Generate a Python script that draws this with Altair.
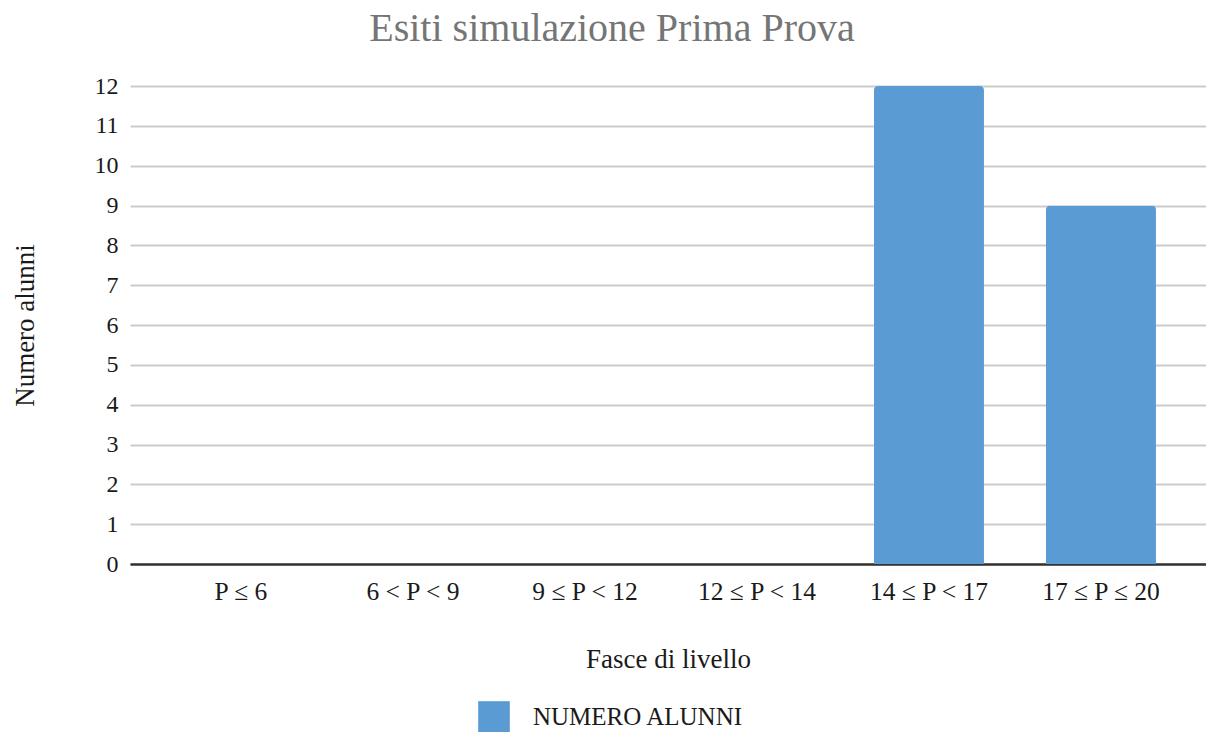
import altair as alt
import pandas as pd

categories = ["P ≤ 6", "6 < P < 9", "9 ≤ P < 12", "12 ≤ P < 14", "14 ≤ P < 17", "17 ≤ P ≤ 20"]
values = [0, 0, 0, 0, 12, 9]
series_name = "NUMERO ALUNNI"
y_ticks = list(range(0, 13))

df = pd.DataFrame({"fascia": categories, "alunni": values, "serie": [series_name] * len(categories)})

FONT = "Liberation Serif"
BLUE = "#5A9BD4"

chart = alt.Chart(df).mark_bar(
    cornerRadiusTopLeft=4, cornerRadiusTopRight=4
).encode(
    x=alt.X("fascia:N", sort=categories,
            scale=alt.Scale(paddingInner=0.3605, paddingOuter=0.308, align=0.528),
            axis=alt.Axis(title="Fasce di livello", labelAngle=0, ticks=False,
                          domain=True, domainColor="#333333", domainWidth=2.5,
                          grid=False, labelPadding=15, titlePadding=42,
                          labelFontSize=25.5, titleFontSize=27, titleFontWeight="normal",
                          labelColor="#1a1a1a", titleColor="#1a1a1a")),
    y=alt.Y("alunni:Q", scale=alt.Scale(domain=[0, 12], nice=False),
            axis=alt.Axis(title="Numero alunni", values=y_ticks, labelOverlap=False,
                          ticks=False, domain=False,
                          gridColor="#cccccc", gridWidth=2, labelPadding=12, titlePadding=55,
                          labelFontSize=24, titleFontSize=27, titleFontWeight="normal",
                          labelColor="#1a1a1a", titleColor="#1a1a1a")),
    color=alt.Color("serie:N", scale=alt.Scale(range=[BLUE]),
                    legend=alt.Legend(title=None, orient="none", legendX=348, legendY=615,
                                      symbolType="square", symbolSize=1000, symbolStrokeWidth=0,
                                      symbolOpacity=1, labelFontSize=25, labelColor="#1a1a1a",
                                      labelOffset=23, labelLimit=0, labelFont=FONT))
).properties(
    width=1076, height=478,
    title=alt.TitleParams("Esiti simulazione Prima Prova", fontSize=40, font=FONT,
                          fontWeight="normal", color="#757575", offset=25, dx=-56),
    autosize=alt.AutoSizeParams(type="none"),
    padding={"left": 122, "top": 78, "right": 0, "bottom": 168},
).configure_axis(
    labelFont=FONT, titleFont=FONT
).configure_legend(
    labelFont=FONT
).configure_view(stroke=None)

chart.save("out.html", embed_options={"renderer": "svg", "actions": False})
